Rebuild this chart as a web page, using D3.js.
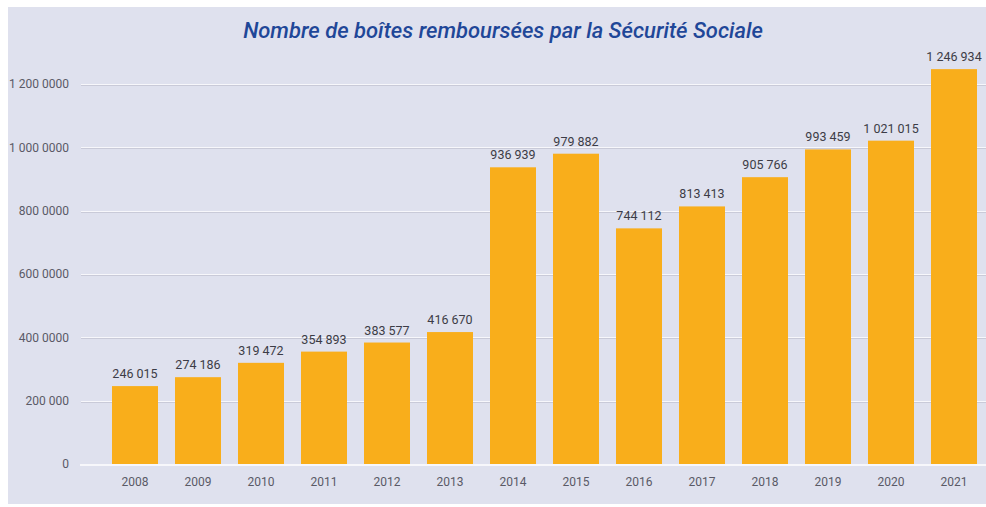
<!DOCTYPE html>
<html>
<head>
<meta charset="utf-8">
<script src="https://cdn.jsdelivr.net/npm/d3@7"></script>
<style>
  body { margin: 0; background: #fff; }
  svg { display: block; font-family: Roboto, sans-serif; }
</style>
</head>
<body>
<svg id="chart" width="986" height="507"></svg>
<script>
const years = ['2008', '2009', '2010', '2011', '2012', '2013', '2014',
  '2015', '2016', '2017', '2018', '2019', '2020', '2021'];
const boxes = [246015, 274186, 319472, 354893, 383577, 416670, 936939,
  979882, 744112, 813413, 905766, 993459, 1021015, 1246934];
const tickValues = [0, 200000, 400000, 600000, 800000, 1000000, 1200000];
// labels as printed on the original (sic)
const tickLabels = ['0', '200 000', '400 0000', '600 0000', '800 0000', '1 000 0000', '1 200 0000'];
const title = 'Nombre de boîtes remboursées par la Sécurité Sociale';

const width = 986, height = 507;
const margin = {top: 84, right: 0, bottom: 43, left: 81};
const svg = d3.select('#chart');

// panel background
svg.append('rect')
  .attr('x', 8).attr('y', 7)
  .attr('width', width - 8).attr('height', 497)
  .attr('fill', '#dfe1ee');

const x = d3.scaleBand()
  .domain(years)
  .range([103.5, 985.5])
  .paddingInner(0.27)
  .paddingOuter(0.135);

const y = d3.scaleLinear()
  .domain([0, 1200000])
  .range([height - margin.bottom, margin.top]);

const fmt = v => d3.format(',')(v).replace(/,/g, ' ');

// grid lines: white line with a faint grey shadow under it
const grid = svg.append('g');
tickValues.filter(d => d > 0).forEach(d => {
  grid.append('line')
    .attr('x1', margin.left).attr('x2', width)
    .attr('y1', Math.round(y(d)) + 1.5).attr('y2', Math.round(y(d)) + 1.5)
    .attr('stroke', '#c9cad8');
  grid.append('line')
    .attr('x1', margin.left).attr('x2', width)
    .attr('y1', Math.round(y(d)) + 0.5).attr('y2', Math.round(y(d)) + 0.5)
    .attr('stroke', '#f7f7fb');
});

// y axis labels
svg.append('g')
  .attr('transform', `translate(${margin.left - 9},0)`)
  .call(d3.axisLeft(y).tickValues(tickValues).tickSize(0)
    .tickFormat((d, i) => tickLabels[i]))
  .call(g => g.select('.domain').remove())
  .call(g => g.selectAll('text')
    .attr('font-family', 'Roboto, sans-serif')
    .attr('font-size', 12)
    .attr('fill', '#5a5a66'));

// bars
svg.append('g')
  .selectAll('rect')
  .data(boxes)
  .join('rect')
    .attr('x', (d, i) => x(years[i]))
    .attr('y', d => y(d))
    .attr('width', x.bandwidth())
    .attr('height', d => y(0) - y(d))
    .attr('fill', '#f9ae1b');

// value labels
svg.append('g')
  .selectAll('text')
  .data(boxes)
  .join('text')
    .attr('x', (d, i) => x(years[i]) + x.bandwidth() / 2)
    .attr('y', d => y(d) - 8)
    .attr('text-anchor', 'middle')
    .attr('font-size', 12.5)
    .attr('fill', '#3c3c46')
    .text(fmt);

// baseline
svg.append('line')
  .attr('x1', margin.left - 1).attr('x2', width)
  .attr('y1', y(0) + 1).attr('y2', y(0) + 1)
  .attr('stroke', '#f7f7fb')
  .attr('stroke-width', 2);

// x axis labels
svg.append('g')
  .attr('transform', `translate(0,${y(0)})`)
  .call(d3.axisBottom(x).tickSize(0).tickPadding(13))
  .call(g => g.select('.domain').remove())
  .call(g => g.selectAll('text')
    .attr('font-family', 'Roboto, sans-serif')
    .attr('font-size', 12)
    .attr('fill', '#5a5a66'));

svg.append('text')
  .attr('x', 503).attr('y', 38)
  .attr('text-anchor', 'middle')
  .attr('font-size', 22)
  .attr('font-style', 'italic')
  .attr('font-weight', 500)
  .attr('fill', '#1f4798')
  .text(title);
</script>
</body>
</html>
